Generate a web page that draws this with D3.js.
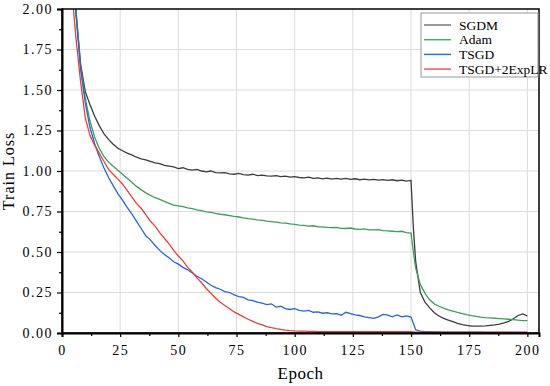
<!DOCTYPE html>
<html>
<head>
<meta charset="utf-8">
<script src="https://cdn.jsdelivr.net/npm/d3@7"></script>
<style>
  body { margin: 0; background: #fff; }
  text { font-family: "Liberation Serif", "DejaVu Serif", serif; }
  .tick text { font-size: 14px; letter-spacing: 1.5px; }
</style>
</head>
<body>
<script>
// epochs (x values)
const epochs = [2,4,6,8,10,12,14,16,18,20,22,24,26,28,30,32,34,36,38,40,
  42,44,46,48,50,52,54,56,58,60,62,64,66,68,70,72,74,76,78,80,
  82,84,86,88,90,92,94,96,98,100,102,104,106,108,110,112,114,116,118,120,
  122,124,126,128,130,132,134,136,138,140,142,144,146,148,150,151,152,154,156,158,
  160,162,164,166,168,170,172,174,176,178,180,182,184,186,188,190,192,194,196,198,200];

const sgdm = [3.2,2.35,1.98,1.66,1.49,1.41,1.34,1.28,1.23,1.195,1.165,1.14,1.125,1.11,1.10,1.085,1.075,1.068,1.06,1.05,
  1.045,1.035,1.03,1.025,1.015,1.02,1.01,1.005,1.01,1.0,0.995,1.0,0.99,0.988,0.99,0.982,0.98,0.985,0.978,0.975,
  0.98,0.972,0.975,0.97,0.968,0.972,0.965,0.968,0.962,0.965,0.96,0.958,0.962,0.955,0.958,0.952,0.956,0.95,0.954,0.95,
  0.955,0.948,0.952,0.946,0.95,0.945,0.948,0.944,0.947,0.942,0.946,0.94,0.944,0.938,0.942,0.65,0.44,0.25,0.19,0.155,
  0.125,0.105,0.09,0.08,0.07,0.06,0.052,0.047,0.043,0.042,0.042,0.044,0.047,0.05,0.055,0.062,0.072,0.088,0.108,0.118,0.105];

const adam = [3.1,2.35,2.0,1.64,1.45,1.31,1.21,1.14,1.09,1.055,1.03,1.005,0.98,0.955,0.93,0.905,0.885,0.865,0.85,0.835,
  0.825,0.812,0.80,0.79,0.785,0.78,0.772,0.768,0.76,0.755,0.748,0.745,0.738,0.733,0.73,0.725,0.72,0.716,0.71,0.706,
  0.703,0.698,0.695,0.69,0.688,0.684,0.68,0.678,0.673,0.67,0.666,0.664,0.66,0.662,0.656,0.655,0.652,0.65,0.652,0.646,
  0.645,0.648,0.642,0.64,0.643,0.637,0.636,0.638,0.632,0.63,0.628,0.626,0.628,0.62,0.617,0.50,0.40,0.30,0.245,0.205,
  0.18,0.165,0.153,0.143,0.135,0.127,0.12,0.113,0.107,0.102,0.098,0.095,0.093,0.091,0.089,0.087,0.085,0.082,0.079,0.077,0.076];

const tsgd = [3.0,2.3,1.97,1.63,1.42,1.27,1.17,1.09,1.02,0.96,0.91,0.86,0.82,0.775,0.735,0.69,0.645,0.6,0.575,0.54,
  0.51,0.485,0.465,0.44,0.425,0.405,0.39,0.37,0.35,0.335,0.315,0.295,0.28,0.27,0.255,0.25,0.235,0.225,0.22,0.205,
  0.2,0.19,0.185,0.175,0.18,0.16,0.165,0.15,0.145,0.15,0.14,0.135,0.14,0.128,0.13,0.122,0.125,0.118,0.12,0.11,
  0.128,0.12,0.112,0.108,0.1,0.095,0.09,0.1,0.115,0.11,0.1,0.112,0.1,0.105,0.098,0.06,0.02,0.012,0.009,0.008,
  0.007,0.007,0.006,0.006,0.006,0.005,0.005,0.005,0.005,0.005,0.005,0.004,0.004,0.004,0.004,0.004,0.004,0.004,0.004,0.004,0.004];

const tsgdExp = [2.9,2.15,1.82,1.55,1.33,1.22,1.16,1.11,1.06,1.01,0.98,0.95,0.92,0.88,0.84,0.8,0.77,0.73,0.69,0.66,
  0.62,0.585,0.55,0.51,0.475,0.445,0.405,0.375,0.34,0.31,0.275,0.245,0.215,0.19,0.17,0.15,0.13,0.115,0.1,0.085,
  0.072,0.06,0.05,0.04,0.033,0.027,0.022,0.018,0.015,0.013,0.012,0.011,0.01,0.01,0.009,0.009,0.009,0.009,0.009,0.009,
  0.009,0.008,0.008,0.008,0.008,0.008,0.008,0.008,0.008,0.008,0.008,0.008,0.008,0.008,0.008,0.007,0.006,0.006,0.006,0.006,
  0.006,0.006,0.006,0.006,0.006,0.006,0.006,0.006,0.006,0.006,0.006,0.006,0.006,0.006,0.006,0.006,0.006,0.006,0.006,0.006,0.006];

const seriesNames = ["SGDM", "Adam", "TSGD", "TSGD+2ExpLR"];
const lineColors = ["#3c3c3c", "#3f9d5e", "#2766d4", "#e2403d"];
const legendColors = ["#777777", "#3fae6a", "#1f7cc8", "#ea5a62"];
const xTicks = [0, 25, 50, 75, 100, 125, 150, 175, 200];
const yTicks = [0, 0.25, 0.5, 0.75, 1.0, 1.25, 1.5, 1.75, 2.0];

const width = 550, height = 386;
const margin = { left: 62, right: 11, top: 9, bottom: 53 };

const svg = d3.select("body").append("svg")
  .attr("width", width)
  .attr("height", height);

const x = d3.scaleLinear().domain([0, 205]).range([margin.left, width - margin.right]);
const y = d3.scaleLinear().domain([0, 2]).range([height - margin.bottom, margin.top]);

// grid
svg.append("g").selectAll("line").data(xTicks.slice(1)).join("line")
  .attr("x1", d => x(d)).attr("x2", d => x(d))
  .attr("y1", y(0)).attr("y2", y(2))
  .attr("stroke", "#dcdcdc").attr("stroke-width", 1);
svg.append("g").selectAll("line").data(yTicks.slice(1, -1)).join("line")
  .attr("x1", x(0)).attr("x2", x(205))
  .attr("y1", d => y(d)).attr("y2", d => y(d))
  .attr("stroke", "#dcdcdc").attr("stroke-width", 1);

// lines
svg.append("clipPath").attr("id", "clip").append("rect")
  .attr("x", x(0)).attr("y", y(2))
  .attr("width", x(205) - x(0)).attr("height", y(0) - y(2));

const line = d3.line().x((d, i) => x(epochs[i])).y(d => y(d));
const allSeries = [sgdm, adam, tsgd, tsgdExp];
svg.append("g").attr("clip-path", "url(#clip)")
  .selectAll("path").data(allSeries).join("path")
  .attr("d", line)
  .attr("fill", "none")
  .attr("stroke", (d, i) => lineColors[i])
  .attr("stroke-width", 1.3);

// frame
svg.append("rect")
  .attr("x", x(0)).attr("y", y(2))
  .attr("width", x(205) - x(0)).attr("height", y(0) - y(2))
  .attr("fill", "none").attr("stroke", "#000").attr("stroke-width", 1.5);

// axes
svg.append("g")
  .attr("transform", `translate(0,${y(0)})`)
  .call(d3.axisBottom(x).tickValues(xTicks).tickSize(4).tickPadding(8).tickFormat(d3.format("d")));
svg.append("g")
  .attr("transform", `translate(0,${y(0)})`)
  .call(d3.axisBottom(x).tickValues(xTicks.slice(0, -1).map(d => d + 12.5)).tickSize(3).tickFormat(""))
  .select(".domain").remove();

svg.append("g")
  .attr("transform", `translate(${x(0)},0)`)
  .call(d3.axisLeft(y).tickValues(yTicks).tickSize(5).tickPadding(4).tickFormat(d3.format(".2f")));
svg.append("g")
  .attr("transform", `translate(${x(0)},0)`)
  .call(d3.axisLeft(y).tickValues(yTicks.slice(0, -1).map(d => d + 0.125)).tickSize(3).tickFormat(""))
  .select(".domain").remove();

svg.selectAll(".domain").attr("stroke-width", 2);
svg.selectAll(".tick line").attr("stroke-width", 1.2);
svg.selectAll(".tick text").attr("fill", "#000");

// axis titles
svg.append("text")
  .attr("x", (x(0) + x(205)) / 2).attr("y", 379)
  .attr("text-anchor", "middle")
  .style("font-size", "17px")
  .style("letter-spacing", "0.5px")
  .text("Epoch");
svg.append("text")
  .attr("transform", `translate(14,${(y(0) + y(2)) / 2}) rotate(-90)`)
  .attr("text-anchor", "middle")
  .style("font-size", "16px")
  .style("letter-spacing", "1px")
  .text("Train Loss");

// legend
const legend = svg.append("g");
legend.append("rect")
  .attr("x", 421).attr("y", 13)
  .attr("width", 117).attr("height", 64)
  .attr("fill", "#fff").attr("stroke", "#999").attr("stroke-width", 1);
const rows = legend.selectAll("g").data(seriesNames).join("g")
  .attr("transform", (d, i) => `translate(0,${25 + i * 14.7})`);
rows.append("line")
  .attr("x1", 424).attr("x2", 451)
  .attr("stroke", (d, i) => legendColors[i]).attr("stroke-width", 1.5);
rows.append("text")
  .attr("x", 459).attr("dy", "0.35em")
  .style("font-size", "13.5px")
  .text(d => d);
</script>
</body>
</html>
